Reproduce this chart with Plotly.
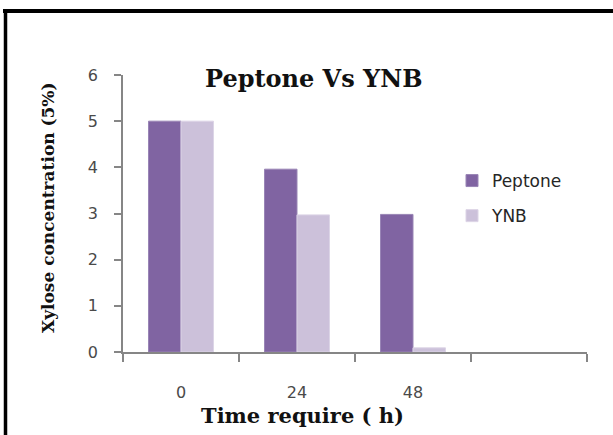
import plotly.graph_objects as go

categories = ["0", "24", "48", " "]
peptone = [5.0, 3.96, 2.98, None]
ynb = [5.0, 2.97, 0.09, None]
series_names = ["Peptone", "YNB"]
colors = ["#8064A2", "#CCC1DA"]
line_colors = ["#9985B5", "#DCD4E6"]

title_text = "Peptone Vs YNB"
x_title = "Time require ( h)"
y_title = "Xylose concentration (5%)"

fig = go.Figure()
for name, vals, c, lc in zip(series_names, [peptone, ynb], colors, line_colors):
    fig.add_trace(go.Bar(
        x=categories, y=vals, name=name, legendgroup=name,
        marker=dict(color=c, line=dict(color=lc, width=1)),
    ))

L, R, T, B = 123, 26, 75, 83
W, H = 613, 435
pw, ph = W - L - R, H - T - B

def px(x):
    return (x - L) / pw

def py(y):
    return (H - B - y) / ph

axis_col = "#868686"
tick_font = dict(family="DejaVu Sans", size=16, color="#4a4a4a")
serif_bold = "DejaVu Serif"

fig.update_layout(
    width=W, height=H,
    margin=dict(l=L, r=R, t=T, b=B, pad=0),
    paper_bgcolor="white", plot_bgcolor="white",
    barmode="group", bargap=0.44, bargroupgap=0,
    showlegend=True,
    legend=dict(
        x=px(452), y=py(163), xanchor="left", yanchor="top",
        font=dict(family="DejaVu Sans", size=17, color="#262626"),
        traceorder="grouped", tracegroupgap=10, itemwidth=30,
        bgcolor="rgba(0,0,0,0)",
    ),
    xaxis=dict(
        type="category", categoryorder="array", categoryarray=categories,
        range=[-0.5, 3.5], showline=True, linecolor=axis_col, linewidth=1.5,
        ticks="outside", ticklen=8, tickcolor=axis_col, tickwidth=1.5,
        tickson="boundaries", tickfont=tick_font, ticklabelstandoff=25,
        showgrid=False, zeroline=False, fixedrange=True,
    ),
    yaxis=dict(
        range=[0, 6], dtick=1, showline=True, linecolor=axis_col, linewidth=1.5,
        ticks="outside", ticklen=7, tickcolor=axis_col, tickwidth=1.5,
        tickfont=tick_font, ticklabelstandoff=13,
        showgrid=False, zeroline=False, fixedrange=True,
    ),
    annotations=[
        dict(text="<b>%s</b>" % title_text, x=px(313), y=py(78), xref="paper", yref="paper",
             showarrow=False, xanchor="center", yanchor="middle",
             font=dict(family=serif_bold, size=24, color="#111111")),
        dict(text="<b>%s</b>" % x_title, x=px(302), y=py(415), xref="paper", yref="paper",
             showarrow=False, xanchor="center", yanchor="middle",
             font=dict(family=serif_bold, size=21, color="#111111")),
        dict(text="<b>%s</b>" % y_title, x=px(48), y=py(208), xref="paper", yref="paper",
             showarrow=False, xanchor="center", yanchor="middle", textangle=-90,
             font=dict(family=serif_bold, size=17, color="#111111")),
    ],
    shapes=[
        dict(type="line", xref="paper", yref="paper", x0=px(3), x1=px(620), y0=py(11), y1=py(11),
             line=dict(color="black", width=4)),
        dict(type="line", xref="paper", yref="paper", x0=px(5.5), x1=px(5.5), y0=py(9), y1=py(445),
             line=dict(color="black", width=3.5)),
    ],
)

fig.write_html("out.html", config={"displayModeBar": False})
